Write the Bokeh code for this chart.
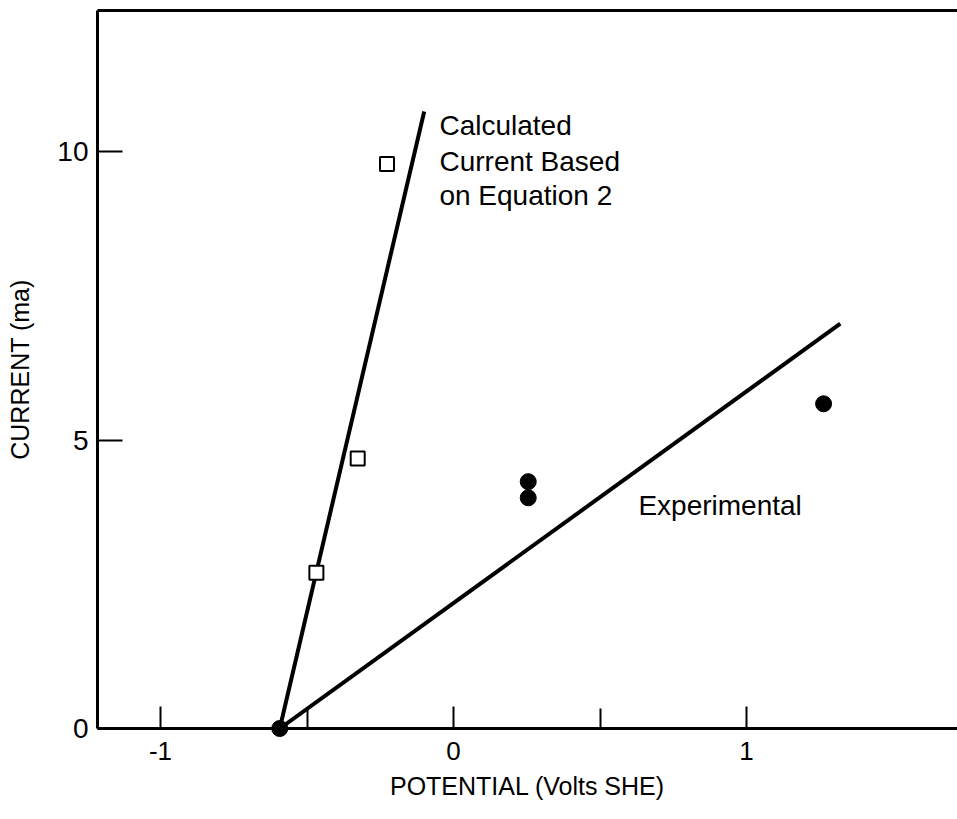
from bokeh.plotting import figure
from bokeh.models import Range1d, FixedTicker, LinearAxis, Label
from bokeh.embed import file_html
from bokeh.resources import INLINE

# ---- data ----
calc_x = [-0.468, -0.327, -0.227]          # open squares (calculated)
calc_y = [2.70, 4.68, 9.79]
exp_x = [0.255, 0.255, 1.263]              # filled circles (experimental)
exp_y = [4.28, 4.00, 5.63]
origin_x = [-0.593]
origin_y = [0.0]
calc_line_x = [-0.593, -0.10]
calc_line_y = [0.0, 10.70]
exp_line_x = [-0.593, 1.32]
exp_line_y = [0.0, 7.02]

x_major = [-1, 0, 1]
x_minor = [-0.5, 0.5]
y_major = [0, 5, 10]

FONT = "Liberation Sans"

p = figure(width=957, height=819, output_backend="svg", toolbar_location=None,
           x_range=Range1d(-1.215, 1.72), y_range=Range1d(0, 12.45),
           min_border_left=97, min_border_right=0, min_border_top=10,
           min_border_bottom=91)
p.grid.visible = False
p.outline_line_color = None
p.background_fill_color = "white"
p.border_fill_color = "white"

xa = p.xaxis[0]
xa.ticker = FixedTicker(ticks=x_major, minor_ticks=x_minor)
xa.major_label_overrides = {-1: "-1", 0: "0", 1: "1"}
xa.axis_line_width = 3
xa.axis_line_color = "black"
xa.major_tick_in = 22
xa.major_tick_out = 0
xa.minor_tick_in = 20
xa.minor_tick_out = 0
xa.major_tick_line_width = 2
xa.minor_tick_line_width = 2
xa.major_label_text_font = FONT
xa.major_label_text_font_size = "26px"
xa.major_label_text_color = "black"
xa.major_label_standoff = 13
xa.axis_label = "POTENTIAL (Volts SHE)"
xa.axis_label_text_font = FONT
xa.axis_label_text_font_size = "25px"
xa.axis_label_text_font_style = "normal"
xa.axis_label_text_color = "black"
xa.axis_label_standoff = 9

ya = p.yaxis[0]
ya.ticker = FixedTicker(ticks=y_major, minor_ticks=[])
ya.axis_line_width = 3
ya.axis_line_color = "black"
ya.major_tick_in = 25
ya.major_tick_out = 0
ya.minor_tick_in = 0
ya.minor_tick_out = 0
ya.major_tick_line_width = 2
ya.major_label_text_font = FONT
ya.major_label_text_font_size = "28px"
ya.major_label_text_color = "black"
ya.major_label_standoff = 9
ya.axis_label = "CURRENT (ma)"
ya.axis_label_text_font = FONT
ya.axis_label_text_font_size = "25px"
ya.axis_label_text_font_style = "normal"
ya.axis_label_text_color = "black"
ya.axis_label_standoff = 20

top = LinearAxis(ticker=FixedTicker(ticks=[]), axis_line_width=3, axis_line_color="black",
                 major_tick_in=0, major_tick_out=0, minor_tick_in=0, minor_tick_out=0,
                 major_label_text_font_size="0px")
p.add_layout(top, "above")

p.line(calc_line_x, calc_line_y, line_color="black", line_width=4)
p.line(exp_line_x, exp_line_y, line_color="black", line_width=4)
p.scatter(calc_x, calc_y, marker="square", size=14, fill_color="white",
          line_color="black", line_width=2)
p.scatter(exp_x, exp_y, marker="circle", size=16, fill_color="black", line_color="black")
p.scatter(origin_x, origin_y, marker="circle", size=16, fill_color="black", line_color="black",
          level="overlay")

for txt, yy in [("Calculated", 10.45), ("Current Based", 9.84), ("on Equation 2", 9.24)]:
    p.add_layout(Label(x=-0.048, y=yy, text=txt, text_font=FONT, text_font_size="28px",
                       text_baseline="alphabetic", text_align="left", text_color="black"))
p.add_layout(Label(x=0.631, y=3.86, text="Experimental", text_font=FONT, text_font_size="28px",
                   text_baseline="alphabetic", text_align="left", text_color="black"))

open("out.html", "w").write(file_html(p, INLINE))
